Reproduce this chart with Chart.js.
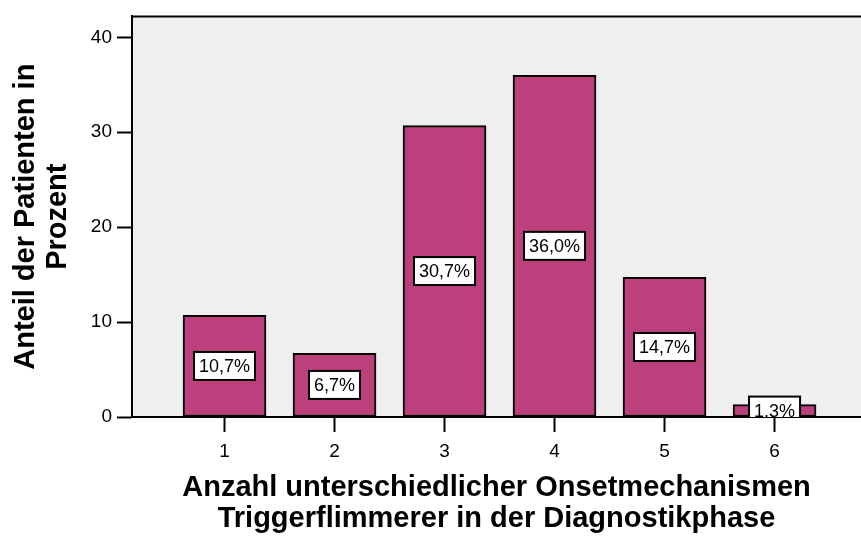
<!DOCTYPE html>
<html>
<head>
<meta charset="utf-8">
<script src="https://cdn.jsdelivr.net/npm/chart.js@4.4.1/dist/chart.umd.min.js"></script>
<style>
  html, body { margin: 0; padding: 0; background: #fff; }
  #wrap { width: 861px; height: 542px; }
</style>
</head>
<body>
<div id="wrap"><canvas id="chart" width="861" height="542"></canvas></div>
<script>
// data
const categories = [1, 2, 3, 4, 5, 6];
const percentValues = [10.7, 6.7, 30.7, 36.0, 14.7, 1.3];
const percentLabels = ['10,7%', '6,7%', '30,7%', '36,0%', '14,7%', '1,3%'];
const yTicks = [0, 10, 20, 30, 40];

const xTitle = ['Anzahl unterschiedlicher Onsetmechanismen', 'Triggerflimmerer in der Diagnostikphase'];
const yTitle = ['Anteil der Patienten in', 'Prozent'];

const FONT = 'Arial, "Liberation Sans", sans-serif';

// grey plot background + top frame line
const frame = {
  id: 'frame',
  beforeDraw(chart) {
    const { ctx, chartArea: a } = chart;
    ctx.save();
    ctx.fillStyle = '#efefef';
    ctx.fillRect(a.left, a.top, a.right - a.left, a.bottom - a.top);
    ctx.strokeStyle = '#000';
    ctx.lineWidth = 2;
    ctx.beginPath();
    ctx.moveTo(a.left, a.top);
    ctx.lineTo(a.right, a.top);
    ctx.stroke();
    ctx.restore();
  }
};

// white boxed value labels in the middle of each bar
const boxLabels = {
  id: 'boxLabels',
  afterDatasetsDraw(chart) {
    const { ctx, chartArea: a } = chart;
    const meta = chart.getDatasetMeta(0);
    ctx.save();
    ctx.beginPath();
    ctx.rect(a.left, a.top, a.right - a.left, a.bottom - a.top);
    ctx.clip();
    ctx.font = '18px ' + FONT;
    ctx.textAlign = 'center';
    ctx.textBaseline = 'middle';
    meta.data.forEach((bar, i) => {
      const txt = percentLabels[i];
      const cx = bar.x;
      const cy = (bar.y + bar.base) / 2;
      const w = ctx.measureText(txt).width + 10;
      const h = 28;
      ctx.fillStyle = '#fff';
      ctx.fillRect(cx - w / 2, cy - h / 2, w, h);
      ctx.strokeStyle = '#000';
      ctx.lineWidth = 2;
      ctx.strokeRect(cx - w / 2, cy - h / 2, w, h);
      ctx.fillStyle = '#000';
      ctx.fillText(txt, cx, cy + 1);
    });
    ctx.restore();
  }
};

new Chart(document.getElementById('chart'), {
  type: 'bar',
  data: {
    datasets: [{
      data: categories.map((c, i) => ({ x: c, y: percentValues[i] })),
      backgroundColor: '#bb407c',
      borderColor: '#000',
      borderWidth: 2,
      borderSkipped: false,
      barThickness: 83
    }]
  },
  options: {
    responsive: false,
    devicePixelRatio: 1,
    animation: false,
    layout: { padding: { top: 10, right: 0, left: 0, bottom: 0 } },
    plugins: { legend: { display: false }, tooltip: { enabled: false } },
    scales: {
      x: {
        type: 'linear',
        offset: false,
        min: 0.159,
        max: 6.786,
        afterBuildTicks(scale) { scale.ticks = categories.map(v => ({ value: v })); },
        afterFit(scale) { scale.height = 125; },
        ticks: {
          color: '#000',
          font: { family: FONT, size: 19 },
          padding: 8,
          maxRotation: 0
        },
        grid: { offset: false, drawOnChartArea: false, tickLength: 15, tickWidth: 2, tickColor: '#000' },
        border: { display: true, color: '#000', width: 2 },
        title: {
          display: true,
          text: xTitle,
          color: '#000',
          font: { family: FONT, size: 29, weight: 'bold', lineHeight: 1.07 },
          padding: { top: 0, bottom: 7 }
        }
      },
      y: {
        min: 0,
        max: 42.2,
        afterBuildTicks(scale) { scale.ticks = yTicks.map(v => ({ value: v })); },
        afterFit(scale) { scale.width = 132; },
        ticks: {
          color: '#000',
          font: { family: FONT, size: 19 },
          padding: 5
        },
        grid: { drawOnChartArea: false, tickLength: 15, tickWidth: 2, tickColor: '#000' },
        border: { display: true, color: '#000', width: 2 },
        title: {
          display: true,
          text: yTitle,
          color: '#000',
          font: { family: FONT, size: 29, weight: 'bold', lineHeight: 1.1 },
          padding: { top: 10, bottom: 0 }
        }
      }
    }
  },
  plugins: [frame, boxLabels]
});
</script>
</body>
</html>
